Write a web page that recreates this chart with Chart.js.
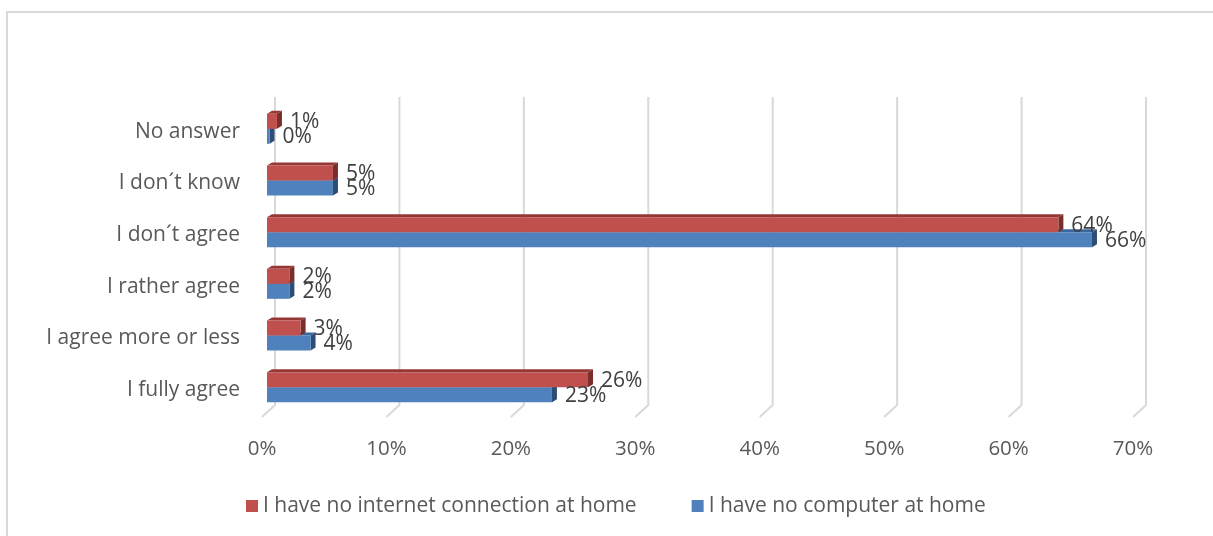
<!DOCTYPE html>
<html>
<head>
<meta charset="utf-8">
<script src="https://cdn.jsdelivr.net/npm/chart.js@4/dist/chart.umd.min.js"></script>
<style>
  body { margin: 0; background: #fff; overflow: hidden; }
  #frame { position: absolute; left: 6px; top: 11px; width: 1300px; height: 600px;
           border-left: 2px solid #d9d9d9; border-top: 2px solid #d9d9d9; }
  #mychart { position: absolute; left: 0; top: 0; }
</style>
</head>
<body>
<div id="frame"></div>
<canvas id="mychart" width="1213" height="536"></canvas>
<script>
const categories = ['No answer', 'I don´t know', 'I don´t agree', 'I rather agree', 'I agree more or less', 'I fully agree'];
const noInternet = [0.8, 5.3, 63.6, 1.8, 2.7, 25.8];
const noComputer = [0.2, 5.3, 66.3, 1.8, 3.5, 22.9];
const tickValues = [0, 10, 20, 30, 40, 50, 60, 70];

const FONT = '"Open Sans"';
const DX = 5, DY = 3;
const frontColors = ['#c0504d', '#4f81bd'];
const topColors = ['#953735', '#3a67a0'];
const sideColors = ['#7a2d2b', '#2c4d75'];

// back grid + floor ticks, the top/side faces of the bars, value labels and legend
const depth3d = {
    id: 'depth3d',
    beforeDatasetsDraw(chart) {
        const ctx = chart.ctx;
        const xs = chart.scales.x;
        const area = chart.chartArea;
        ctx.save();
        ctx.strokeStyle = '#d9d9d9';
        ctx.lineWidth = 2;
        tickValues.forEach(v => {
            const px = xs.getPixelForValue(v);
            ctx.beginPath();
            ctx.moveTo(px + 8, area.top - 6);
            ctx.lineTo(px + 8, area.bottom - 8);
            ctx.lineTo(px - 5, area.bottom + 4);
            ctx.stroke();
        });
        for (let d = chart.data.datasets.length - 1; d >= 0; d--) {
            const meta = chart.getDatasetMeta(d);
            meta.data.forEach(bar => {
                const p = bar.getProps(['x', 'y', 'base', 'height'], true);
                const top = p.y - p.height / 2, bot = p.y + p.height / 2;
                ctx.fillStyle = topColors[d];
                ctx.beginPath();
                ctx.moveTo(p.base, top);
                ctx.lineTo(p.base + DX, top - DY);
                ctx.lineTo(p.x + DX, top - DY);
                ctx.lineTo(p.x, top);
                ctx.closePath();
                ctx.fill();
                ctx.fillStyle = sideColors[d];
                ctx.beginPath();
                ctx.moveTo(p.x, top);
                ctx.lineTo(p.x + DX, top - DY);
                ctx.lineTo(p.x + DX, bot - DY);
                ctx.lineTo(p.x, bot);
                ctx.closePath();
                ctx.fill();
            });
        }
        ctx.restore();
    },
    afterDatasetsDraw(chart) {
        const ctx = chart.ctx;
        ctx.save();
        ctx.font = '21px ' + FONT;
        ctx.fillStyle = '#404040';
        ctx.textAlign = 'left';
        ctx.textBaseline = 'middle';
        chart.data.datasets.forEach((ds, d) => {
            chart.getDatasetMeta(d).data.forEach((bar, i) => {
                ctx.fillText(Math.round(ds.data[i]) + '%', bar.x + DX + 8, bar.y + 1);
            });
        });
        ctx.restore();
    },
    afterDraw(chart) {
        const ctx = chart.ctx;
        ctx.save();
        ctx.font = '21px ' + FONT;
        ctx.textAlign = 'left';
        ctx.textBaseline = 'middle';
        let x = 246;
        const y = 506;
        chart.data.datasets.forEach(ds => {
            ctx.fillStyle = ds.backgroundColor;
            ctx.fillRect(x, y - 6, 12, 12);
            ctx.fillStyle = '#595959';
            ctx.fillText(ds.label, x + 17, y);
            x += 17 + ctx.measureText(ds.label).width + 55;
        });
        ctx.restore();
    }
};

const ctx = document.getElementById('mychart');
const myChart = new Chart(ctx, {
    type: 'bar',
    data: {
        labels: categories,
        datasets: [{
            label: 'I have no internet connection at home',
            data: noInternet,
            backgroundColor: frontColors[0],
        }, {
            label: 'I have no computer at home',
            data: noComputer,
            backgroundColor: frontColors[1],
        }]
    },
    plugins: [depth3d],
    options: {
        indexAxis: 'y',
        responsive: false,
        animation: false,
        events: [],
        layout: { padding: { top: 103, right: 75, bottom: 67, left: 0 } },
        datasets: { bar: { categoryPercentage: 0.58, barPercentage: 1 } },
        scales: {
            x: {
                min: 0,
                max: 70,
                afterBuildTicks: s => { s.ticks = tickValues.map(v => ({ value: v })); },
                afterFit: s => { s.height = 56; },
                grid: { display: false, drawTicks: false },
                border: { display: false },
                ticks: {
                    labelOffset: -5,
                    padding: 24,
                    color: '#595959',
                    font: { family: FONT, size: 20.5 },
                    callback: v => v + '%'
                }
            },
            y: {
                afterFit: s => { s.width = 267; },
                grid: { display: false, drawTicks: false },
                border: { display: false },
                ticks: {
                    padding: 27,
                    labelOffset: 3,
                    color: '#595959',
                    font: { family: FONT, size: 21 }
                }
            }
        },
        plugins: {
            legend: { display: false },
            tooltip: { enabled: false }
        }
    }
});
</script>
</body>
</html>
